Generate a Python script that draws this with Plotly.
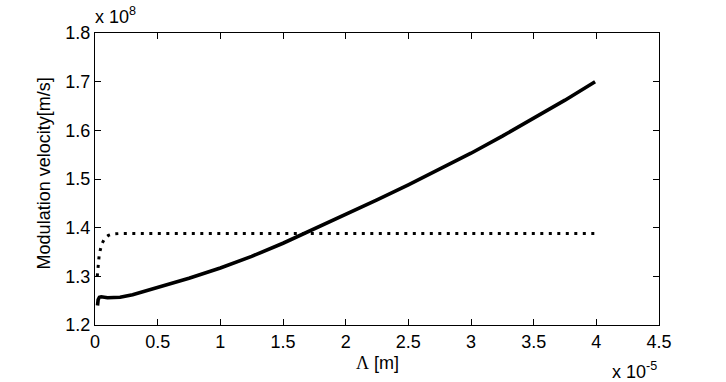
import plotly.graph_objects as go

# x in units of 1e-5 m, y in units of 1e8 m/s
solid_x = [0.02, 0.025, 0.035, 0.05, 0.1, 0.15, 0.2, 0.3, 0.5, 0.75, 1.0, 1.25, 1.5, 1.75,
           2.0, 2.25, 2.5, 2.75, 3.0, 3.25, 3.5, 3.75, 3.99]
solid_y = [1.240, 1.252, 1.257, 1.258, 1.256, 1.256, 1.257, 1.262, 1.277, 1.296, 1.317, 1.341,
           1.368, 1.397, 1.426, 1.457, 1.488, 1.520, 1.553, 1.588, 1.625, 1.662, 1.700]

dot_x = [0.018, 0.026, 0.034, 0.053, 0.08, 0.106, 0.14, 0.2, 0.5, 1.0, 1.5, 2.0, 2.5, 3.0,
         3.5, 4.0]
dot_y = [1.300, 1.325, 1.345, 1.366, 1.379, 1.384, 1.387, 1.388, 1.388, 1.388, 1.388, 1.388,
         1.388, 1.388, 1.388, 1.388]

x_ticks = [0, 0.5, 1, 1.5, 2, 2.5, 3, 3.5, 4, 4.5]
x_ticktext = ["0", "0.5", "1", "1.5", "2", "2.5", "3", "3.5", "4", "4.5"]
y_ticks = [1.2, 1.3, 1.4, 1.5, 1.6, 1.7, 1.8]
y_ticktext = ["1.2", "1.3", "1.4", "1.5", "1.6", "1.7", "1.8"]

FONT = "Liberation Sans, Arial, Helvetica, sans-serif"
FS = 18

fig = go.Figure()
fig.add_trace(go.Scatter(x=solid_x, y=solid_y, mode="lines",
                         line=dict(color="black", width=3.6), showlegend=False))
fig.add_trace(go.Scatter(x=dot_x, y=dot_y, mode="lines",
                         line=dict(color="black", width=3, dash="3px,5.5px"), showlegend=False))

axis_common = dict(showgrid=False, zeroline=False, showline=True, linecolor="black",
                   linewidth=1, mirror="ticks", ticks="inside", ticklen=6, tickwidth=1,
                   tickcolor="black", tickfont=dict(family=FONT, size=FS, color="black"))

fig.update_xaxes(range=[0, 4.5], tickvals=x_ticks, ticktext=x_ticktext, **axis_common)
fig.update_yaxes(range=[1.2, 1.8], tickvals=y_ticks, ticktext=y_ticktext, **axis_common)

fig.update_layout(
    width=726, height=382,
    margin=dict(l=95, r=67, t=33, b=57, autoexpand=False),
    plot_bgcolor="white", paper_bgcolor="white",
    font=dict(family=FONT, size=FS, color="black"),
    annotations=[
        dict(text="x 10<sup>8</sup>", xref="paper", yref="paper", x=-0.003, y=1.015,
             xanchor="left", yanchor="bottom", showarrow=False,
             font=dict(family=FONT, size=FS, color="black")),
        dict(text="x 10<sup>-5</sup>", xref="paper", yref="paper", x=1.0, y=-0.203,
             xanchor="right", yanchor="bottom", showarrow=False,
             font=dict(family=FONT, size=FS, color="black")),
        dict(text="<span style='font-family:Liberation Serif'>\u039b</span> [m]",
             xref="paper", yref="paper", x=0.5, y=-0.13, xanchor="center", yanchor="middle",
             showarrow=False, font=dict(family=FONT, size=FS, color="black")),
        dict(text="Modulation velocity[m/s]", xref="paper", yref="paper",
             x=-0.09, y=0.52, xanchor="center", yanchor="middle", textangle=-90,
             showarrow=False, font=dict(family=FONT, size=FS, color="black")),
    ],
)

fig.write_html("out.html", config={"displayModeBar": False},
               post_script="document.body.style.margin='0';document.body.style.overflow='hidden';")
